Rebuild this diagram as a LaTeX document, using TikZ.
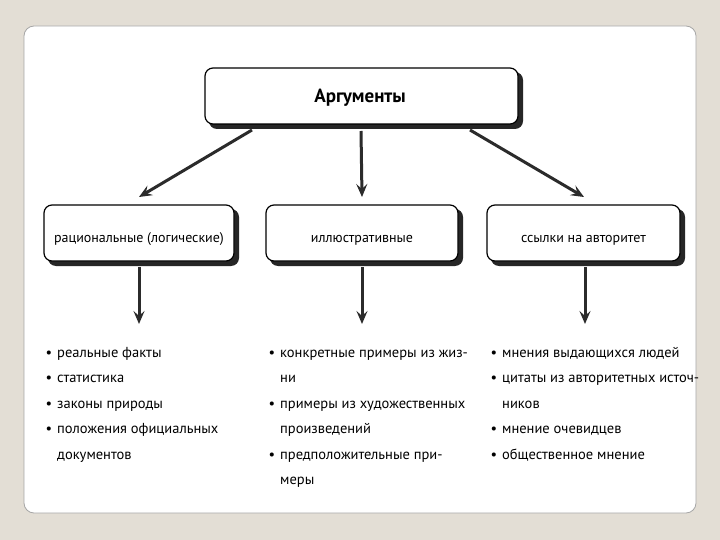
\documentclass[tikz,border=0pt]{standalone}
\usepackage{fontspec}
\setmainfont{PT Sans}
\usetikzlibrary{arrows.meta}
\definecolor{bgbeige}{HTML}{E3DED5}
\definecolor{arrowgray}{HTML}{2B2B2B}
\tikzset{
  panel/.style={fill=white, draw=gray!70, line width=0.8pt, rounded corners=10pt},
  catbox/.style={draw=black, line width=1.2pt, fill=white, rounded corners=8pt},
  shadowbox/.style={fill=black!85, rounded corners=8pt},
  boxlabel/.style={font=\fontsize{14}{16}\selectfont, anchor=base, inner sep=0pt},
  toplabel/.style={font=\bfseries\fontsize{19}{22}\selectfont, anchor=base, inner sep=0pt},
  conn/.style={draw=arrowgray, line width=3pt,
    -{Stealth[length=13pt,width=11pt,inset=5pt]}},
  item/.style={font=\fontsize{14.5}{25.5}\selectfont, anchor=base west, align=left, inner sep=0pt},
}
\newcommand{\bul}{\llap{\textbullet\hspace{5pt}}}
\begin{document}
\begin{tikzpicture}[x=1pt, y=-1pt]
\useasboundingbox (0,0) rectangle (720,540);
\fill[bgbeige] (0,0) rectangle (720,540);
\path[panel] (24,26) rectangle (696,513);

% top box
\fill[shadowbox] (209,72) rectangle (523,129);
\path[catbox] (205,68) rectangle (518,124);
\node[toplabel] (top) at (360,103) {Аргументы};
\coordinate (topL) at (252,130);
\coordinate (topM) at (361,131);
\coordinate (topR) at (470,130);

% category boxes
\fill[shadowbox] (48,209) rectangle (239,266);
\path[catbox] (44,205) rectangle (234,261);
\node[boxlabel] (rat) at (139,242) {рациональные (логические)};
\fill[shadowbox] (270,209) rectangle (463,266);
\path[catbox] (266,205) rectangle (458,261);
\node[boxlabel] (ill) at (362,242) {иллюстративные};
\fill[shadowbox] (491,209) rectangle (685,266);
\path[catbox] (487,205) rectangle (680,261);
\node[boxlabel] (ssy) at (583.5,242) {ссылки на авторитет};

\coordinate (ratT) at (139,197);
\coordinate (illT) at (362,197);
\coordinate (ssyT) at (584,197);
\coordinate (ratB) at (139,267);
\coordinate (illB) at (362,267);
\coordinate (ssyB) at (585,267);
\coordinate (ratE) at (139,324);
\coordinate (illE) at (362,324);
\coordinate (ssyE) at (585,324);

\draw[conn] (topL) -- (ratT);
\draw[conn] (topM) -- (illT);
\draw[conn] (topR) -- (ssyT);
\draw[conn] (ratB) -- (ratE);
\draw[conn] (illB) -- (illE);
\draw[conn] (ssyB) -- (ssyE);

% lists (multi-line nodes are placed by the baseline of their last line)
\node[item] (a1) at (57,357) {\bul реальные факты};
\node[item] (a2) at (57,382.5) {\bul статистика};
\node[item] (a3) at (57,408) {\bul законы природы};
\node[item] (a4) at (57,459) {\bul положения официальных\\документов};

\node[item] (b1) at (280,382.5) {\bul конкретные примеры из жиз-\\ни};
\node[item] (b2) at (280,433.5) {\bul примеры из художественных\\произведений};
\node[item] (b3) at (280,484.5) {\bul предположительные при-\\меры};

\node[item] (c1) at (502,357) {\bul мнения выдающихся людей};
\node[item] (c2) at (502,408) {\bul цитаты из авторитетных источ-\\ников};
\node[item] (c3) at (502,433.5) {\bul мнение очевидцев};
\node[item] (c4) at (502,459) {\bul общественное мнение};
\end{tikzpicture}
\end{document}
